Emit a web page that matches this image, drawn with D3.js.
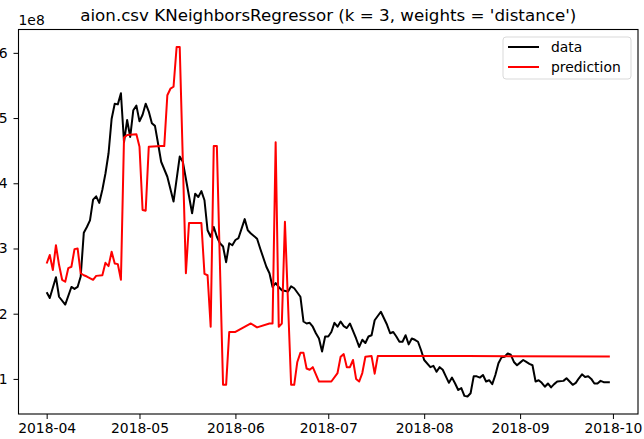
<!DOCTYPE html>
<html>
<head>
<meta charset="utf-8">
<script src="https://cdn.jsdelivr.net/npm/d3@7"></script>
<style>
  body { margin: 0; background: #fff; }
  text { font-family: "DejaVu Sans", sans-serif; fill: #000; }
</style>
</head>
<body>
<svg id="chart" width="644" height="439"></svg>
<script>
// values are in units of 1e8
let dataDates = ["2018-04-01","2018-04-02","2018-04-04","2018-04-05","2018-04-07","2018-04-09","2018-04-10","2018-04-11","2018-04-12","2018-04-13","2018-04-14","2018-04-15","2018-04-16","2018-04-17","2018-04-18","2018-04-19","2018-04-20","2018-04-21","2018-04-22","2018-04-23","2018-04-24","2018-04-25","2018-04-26","2018-04-27","2018-04-28","2018-04-29","2018-04-30",
  "2018-05-01","2018-05-02","2018-05-03","2018-05-04","2018-05-05","2018-05-06","2018-05-07","2018-05-08","2018-05-10","2018-05-12","2018-05-14","2018-05-15","2018-05-18","2018-05-19","2018-05-20","2018-05-21","2018-05-22","2018-05-23","2018-05-24","2018-05-25","2018-05-26","2018-05-27","2018-05-28","2018-05-29","2018-05-30","2018-05-31",
  "2018-06-01","2018-06-02","2018-06-04","2018-06-05","2018-06-06","2018-06-08","2018-06-09","2018-06-11","2018-06-12","2018-06-13","2018-06-14","2018-06-15","2018-06-16","2018-06-18","2018-06-19","2018-06-20","2018-06-22","2018-06-23","2018-06-24","2018-06-25","2018-06-26","2018-06-27","2018-06-28","2018-06-29","2018-06-30",
  "2018-07-01","2018-07-02","2018-07-03","2018-07-04","2018-07-05","2018-07-06","2018-07-07","2018-07-08","2018-07-10","2018-07-11","2018-07-12","2018-07-13","2018-07-14","2018-07-15","2018-07-16","2018-07-18","2018-07-19","2018-07-20","2018-07-21","2018-07-22","2018-07-23","2018-07-24","2018-07-25","2018-07-26","2018-07-27","2018-07-28","2018-07-29","2018-07-30","2018-07-31",
  "2018-08-01","2018-08-03","2018-08-04","2018-08-05","2018-08-06","2018-08-07","2018-08-08","2018-08-09","2018-08-10","2018-08-11","2018-08-12","2018-08-13","2018-08-14","2018-08-15","2018-08-16","2018-08-17","2018-08-18","2018-08-19","2018-08-20","2018-08-21","2018-08-22","2018-08-23","2018-08-24","2018-08-25","2018-08-26","2018-08-27","2018-08-28","2018-08-29","2018-08-30","2018-08-31",
  "2018-09-01","2018-09-02","2018-09-03","2018-09-04","2018-09-05","2018-09-06","2018-09-07","2018-09-08","2018-09-09","2018-09-10","2018-09-11","2018-09-12","2018-09-13","2018-09-15","2018-09-16","2018-09-18","2018-09-19","2018-09-20","2018-09-21","2018-09-22","2018-09-23","2018-09-24","2018-09-25","2018-09-26","2018-09-27","2018-09-28","2018-09-30"];
let dataValues = [2.33,2.24,2.56,2.26,2.14,2.41,2.38,2.41,2.57,3.24,3.33,3.43,3.75,3.80,3.70,3.90,4.15,4.46,4.99,5.22,5.21,5.38,4.63,4.97,4.71,5.12,5.19,
  4.95,5.05,5.22,5.10,4.92,4.88,4.61,4.33,4.10,3.72,4.41,4.33,3.54,3.84,3.79,3.88,3.74,3.28,3.18,3.33,3.18,3.08,3.03,2.79,3.08,3.05,
  3.13,3.16,3.45,3.28,3.23,3.15,3.00,2.72,2.62,2.41,2.47,2.41,2.36,2.34,2.42,2.39,2.26,1.88,1.85,1.86,1.80,1.70,1.62,1.42,1.65,
  1.65,1.72,1.86,1.80,1.88,1.81,1.78,1.85,1.62,1.49,1.60,1.55,1.65,1.67,1.90,2.03,1.93,1.83,1.70,1.72,1.65,1.57,1.57,1.67,1.53,1.62,1.60,1.57,1.44,
  1.29,1.18,1.20,1.11,1.18,1.14,1.04,0.94,1.02,0.93,0.83,0.86,0.74,0.73,0.78,1.04,1.04,1.02,1.06,0.96,0.98,0.92,1.06,1.24,1.33,1.34,1.39,1.37,1.26,1.21,
  1.25,1.29,1.26,1.23,1.21,0.96,0.98,0.94,0.88,0.93,0.87,0.92,0.96,0.97,1.01,0.91,0.94,1.01,1.07,1.03,1.04,1.00,0.93,0.93,0.97,0.95,0.95];

let predDates = ["2018-04-01","2018-04-02","2018-04-03","2018-04-04","2018-04-05","2018-04-06","2018-04-07","2018-04-08","2018-04-09","2018-04-10","2018-04-11","2018-04-12","2018-04-13","2018-04-14","2018-04-16","2018-04-17","2018-04-19","2018-04-20","2018-04-21","2018-04-22","2018-04-23","2018-04-24","2018-04-25","2018-04-26","2018-04-27","2018-04-30",
  "2018-05-01","2018-05-02","2018-05-03","2018-05-04","2018-05-08","2018-05-09","2018-05-10","2018-05-11","2018-05-12","2018-05-13","2018-05-14","2018-05-16","2018-05-17","2018-05-21","2018-05-22","2018-05-23","2018-05-24","2018-05-25","2018-05-26","2018-05-28","2018-05-29","2018-05-30",
  "2018-06-01","2018-06-06","2018-06-08","2018-06-12","2018-06-13","2018-06-14","2018-06-15","2018-06-16","2018-06-17","2018-06-19","2018-06-20","2018-06-21","2018-06-22","2018-06-23","2018-06-24","2018-06-25","2018-06-26","2018-06-28",
  "2018-07-02","2018-07-04","2018-07-05","2018-07-06","2018-07-07","2018-07-08","2018-07-09","2018-07-10","2018-07-11","2018-07-12","2018-07-13","2018-07-15","2018-07-16","2018-07-17","2018-08-15","2018-09-30"];
let predValues = [2.77,2.90,2.67,3.05,2.75,2.52,2.49,2.70,2.72,2.99,3.00,2.62,2.59,2.57,2.52,2.58,2.59,2.78,2.73,2.95,2.77,2.76,2.52,4.70,4.74,4.75,
  4.56,3.59,3.58,4.56,4.57,4.57,5.35,5.45,5.48,6.09,6.09,2.62,3.39,3.39,2.61,2.59,1.80,4.57,4.57,0.91,0.91,1.72,
  1.72,1.85,1.79,1.85,1.85,4.63,1.80,1.85,3.41,0.91,0.91,1.26,1.40,1.40,1.16,1.14,1.18,0.96,
  0.96,1.09,1.34,1.38,1.18,1.18,1.29,1.00,0.96,1.09,1.34,1.35,1.08,1.35,1.35,1.345];

let seriesNames = ["data", "prediction"];
let seriesColors = ["#000000", "#ff0000"];
let titleText = "aion.csv KNeighborsRegressor (k = 3, weights = 'distance')";
let yTickValues = [1, 2, 3, 4, 5, 6];
let offsetLabel = "1e8";

let parseDate = d3.timeParse("%Y-%m-%d");
let series = [
  dataDates.map((d, i) => ({ date: parseDate(d), value: dataValues[i] })),
  predDates.map((d, i) => ({ date: parseDate(d), value: predValues[i] }))
];

let margin = { left: 18.5, top: 29.5, right: 6, bottom: 25 };
let width = 644, height = 439;
let svg = d3.select("#chart");

// matplotlib style 5% margins around data
let allPts = series.flat();
let xExt = d3.extent(allPts, d => d.date);
let yExt = d3.extent(allPts, d => d.value);
let xPad = (xExt[1] - xExt[0]) * 0.05;
let yPad = (yExt[1] - yExt[0]) * 0.05;

let x = d3.scaleTime()
     .domain([new Date(+xExt[0] - xPad), new Date(+xExt[1] + xPad)])
     .range([margin.left, width - margin.right]);
let y = d3.scaleLinear()
     .domain([yExt[0] - yPad, yExt[1] + yPad])
     .range([height - margin.bottom, margin.top]);

let line = d3.line()
     .x(d => x(d.date))
     .y(d => y(d.value));

let plot = svg.append("g");
series.forEach((s, i) => {
     plot.append("path")
          .datum(s)
          .attr("fill", "none")
          .attr("stroke", seriesColors[i])
          .attr("stroke-width", 2)
          .attr("stroke-linejoin", "round")
          .attr("d", line);
});

// axes
let xAxis = d3.axisBottom(x)
     .ticks(d3.timeMonth.every(1))
     .tickFormat(d3.timeFormat("%Y-%m"))
     .tickSize(5)
     .tickPadding(4);
let gx = svg.append("g")
     .attr("transform", `translate(0,${height - margin.bottom})`)
     .call(xAxis);
let yAxis = d3.axisLeft(y)
     .tickValues(yTickValues)
     .tickFormat(d3.format("d"))
     .tickSize(5)
     .tickPadding(6);
let gy = svg.append("g")
     .attr("transform", `translate(${margin.left},0)`)
     .call(yAxis);
[gx, gy].forEach(g => {
     g.select(".domain").remove();
     g.selectAll(".tick line").attr("stroke", "#000").attr("stroke-width", 1);
     g.selectAll(".tick text").attr("font-size", 13.9).attr("fill", "#000");
});

// frame
svg.append("rect")
     .attr("x", margin.left)
     .attr("y", margin.top)
     .attr("width", width - margin.right - margin.left)
     .attr("height", height - margin.bottom - margin.top)
     .attr("fill", "none")
     .attr("stroke", "#000")
     .attr("stroke-width", 1.1);

svg.append("text")
     .attr("x", (margin.left + width - margin.right) / 2)
     .attr("y", 21)
     .attr("text-anchor", "middle")
     .attr("font-size", 16.7)
     .text(titleText);

svg.append("text")
     .attr("x", margin.left)
     .attr("y", 25)
     .attr("font-size", 13.9)
     .text(offsetLabel);

// legend
let lg = svg.append("g").attr("transform", "translate(503,37)");
lg.append("rect")
     .attr("width", 128)
     .attr("height", 42)
     .attr("rx", 3)
     .attr("fill", "#fff")
     .attr("fill-opacity", 0.8)
     .attr("stroke", "#d9d9d9");
seriesNames.forEach((name, i) => {
     lg.append("line")
          .attr("x1", 5).attr("x2", 36)
          .attr("y1", 10 + i * 20).attr("y2", 10 + i * 20)
          .attr("stroke", seriesColors[i])
          .attr("stroke-width", 2);
     lg.append("text")
          .attr("x", 48)
          .attr("y", 15 + i * 20)
          .attr("font-size", 13.9)
          .text(name);
});
</script>
</body>
</html>
